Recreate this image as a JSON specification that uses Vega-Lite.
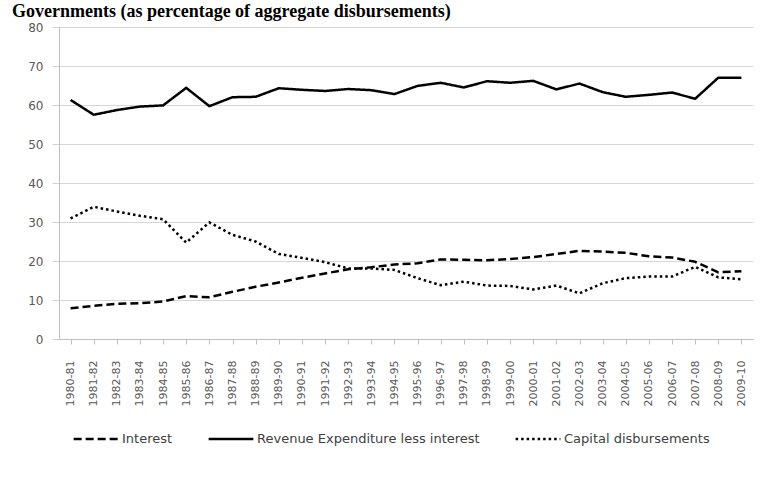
{
  "$schema": "https://vega.github.io/schema/vega-lite/v6.json",
  "autosize": {"type": "none"},
  "padding": {"left": 59, "top": 27, "right": 9, "bottom": 143},
  "width": 694,
  "height": 312,
  "background": "white",
  "title": {
    "text": "Governments (as percentage of aggregate disbursements)",
    "anchor": "start",
    "frame": "group",
    "font": "Liberation Serif",
    "fontSize": 18,
    "fontWeight": "bold",
    "color": "#000000",
    "baseline": "alphabetic",
    "offset": 13,
    "dy": 27,
    "dx": -47
  },
  "data": {
    "values": [
      {"year": "1980-81", "series": "Interest", "value": 7.9},
      {"year": "1981-82", "series": "Interest", "value": 8.5},
      {"year": "1982-83", "series": "Interest", "value": 9.0},
      {"year": "1983-84", "series": "Interest", "value": 9.2},
      {"year": "1984-85", "series": "Interest", "value": 9.6},
      {"year": "1985-86", "series": "Interest", "value": 11.0},
      {"year": "1986-87", "series": "Interest", "value": 10.7},
      {"year": "1987-88", "series": "Interest", "value": 12.1},
      {"year": "1988-89", "series": "Interest", "value": 13.4},
      {"year": "1989-90", "series": "Interest", "value": 14.5},
      {"year": "1990-91", "series": "Interest", "value": 15.7},
      {"year": "1991-92", "series": "Interest", "value": 16.8},
      {"year": "1992-93", "series": "Interest", "value": 17.9},
      {"year": "1993-94", "series": "Interest", "value": 18.4},
      {"year": "1994-95", "series": "Interest", "value": 19.1},
      {"year": "1995-96", "series": "Interest", "value": 19.4},
      {"year": "1996-97", "series": "Interest", "value": 20.4},
      {"year": "1997-98", "series": "Interest", "value": 20.3},
      {"year": "1998-99", "series": "Interest", "value": 20.2},
      {"year": "1999-00", "series": "Interest", "value": 20.5},
      {"year": "2000-01", "series": "Interest", "value": 21.0},
      {"year": "2001-02", "series": "Interest", "value": 21.8},
      {"year": "2002-03", "series": "Interest", "value": 22.6},
      {"year": "2003-04", "series": "Interest", "value": 22.4},
      {"year": "2004-05", "series": "Interest", "value": 22.1},
      {"year": "2005-06", "series": "Interest", "value": 21.2},
      {"year": "2006-07", "series": "Interest", "value": 20.9},
      {"year": "2007-08", "series": "Interest", "value": 19.8},
      {"year": "2008-09", "series": "Interest", "value": 17.1},
      {"year": "2009-10", "series": "Interest", "value": 17.4},
      {"year": "1980-81", "series": "Revenue Expenditure less interest", "value": 61.3},
      {"year": "1981-82", "series": "Revenue Expenditure less interest", "value": 57.5},
      {"year": "1982-83", "series": "Revenue Expenditure less interest", "value": 58.7},
      {"year": "1983-84", "series": "Revenue Expenditure less interest", "value": 59.6},
      {"year": "1984-85", "series": "Revenue Expenditure less interest", "value": 59.9},
      {"year": "1985-86", "series": "Revenue Expenditure less interest", "value": 64.4},
      {"year": "1986-87", "series": "Revenue Expenditure less interest", "value": 59.7},
      {"year": "1987-88", "series": "Revenue Expenditure less interest", "value": 62.0},
      {"year": "1988-89", "series": "Revenue Expenditure less interest", "value": 62.1},
      {"year": "1989-90", "series": "Revenue Expenditure less interest", "value": 64.3},
      {"year": "1990-91", "series": "Revenue Expenditure less interest", "value": 63.9},
      {"year": "1991-92", "series": "Revenue Expenditure less interest", "value": 63.6},
      {"year": "1992-93", "series": "Revenue Expenditure less interest", "value": 64.1},
      {"year": "1993-94", "series": "Revenue Expenditure less interest", "value": 63.8},
      {"year": "1994-95", "series": "Revenue Expenditure less interest", "value": 62.8},
      {"year": "1995-96", "series": "Revenue Expenditure less interest", "value": 64.9},
      {"year": "1996-97", "series": "Revenue Expenditure less interest", "value": 65.7},
      {"year": "1997-98", "series": "Revenue Expenditure less interest", "value": 64.5},
      {"year": "1998-99", "series": "Revenue Expenditure less interest", "value": 66.1},
      {"year": "1999-00", "series": "Revenue Expenditure less interest", "value": 65.7},
      {"year": "2000-01", "series": "Revenue Expenditure less interest", "value": 66.2},
      {"year": "2001-02", "series": "Revenue Expenditure less interest", "value": 64.0},
      {"year": "2002-03", "series": "Revenue Expenditure less interest", "value": 65.5},
      {"year": "2003-04", "series": "Revenue Expenditure less interest", "value": 63.3},
      {"year": "2004-05", "series": "Revenue Expenditure less interest", "value": 62.1},
      {"year": "2005-06", "series": "Revenue Expenditure less interest", "value": 62.6},
      {"year": "2006-07", "series": "Revenue Expenditure less interest", "value": 63.2},
      {"year": "2007-08", "series": "Revenue Expenditure less interest", "value": 61.6},
      {"year": "2008-09", "series": "Revenue Expenditure less interest", "value": 67.0},
      {"year": "2009-10", "series": "Revenue Expenditure less interest", "value": 67.0},
      {"year": "1980-81", "series": "Capital disbursements", "value": 30.9},
      {"year": "1981-82", "series": "Capital disbursements", "value": 33.9},
      {"year": "1982-83", "series": "Capital disbursements", "value": 32.7},
      {"year": "1983-84", "series": "Capital disbursements", "value": 31.6},
      {"year": "1984-85", "series": "Capital disbursements", "value": 30.7},
      {"year": "1985-86", "series": "Capital disbursements", "value": 24.7},
      {"year": "1986-87", "series": "Capital disbursements", "value": 29.9},
      {"year": "1987-88", "series": "Capital disbursements", "value": 26.7},
      {"year": "1988-89", "series": "Capital disbursements", "value": 25.0},
      {"year": "1989-90", "series": "Capital disbursements", "value": 21.8},
      {"year": "1990-91", "series": "Capital disbursements", "value": 20.8},
      {"year": "1991-92", "series": "Capital disbursements", "value": 19.7},
      {"year": "1992-93", "series": "Capital disbursements", "value": 18.1},
      {"year": "1993-94", "series": "Capital disbursements", "value": 18.1},
      {"year": "1994-95", "series": "Capital disbursements", "value": 17.7},
      {"year": "1995-96", "series": "Capital disbursements", "value": 15.6},
      {"year": "1996-97", "series": "Capital disbursements", "value": 13.8},
      {"year": "1997-98", "series": "Capital disbursements", "value": 14.7},
      {"year": "1998-99", "series": "Capital disbursements", "value": 13.7},
      {"year": "1999-00", "series": "Capital disbursements", "value": 13.6},
      {"year": "2000-01", "series": "Capital disbursements", "value": 12.7},
      {"year": "2001-02", "series": "Capital disbursements", "value": 13.7},
      {"year": "2002-03", "series": "Capital disbursements", "value": 11.7},
      {"year": "2003-04", "series": "Capital disbursements", "value": 14.3},
      {"year": "2004-05", "series": "Capital disbursements", "value": 15.6},
      {"year": "2005-06", "series": "Capital disbursements", "value": 16.0},
      {"year": "2006-07", "series": "Capital disbursements", "value": 16.0},
      {"year": "2007-08", "series": "Capital disbursements", "value": 18.5},
      {"year": "2008-09", "series": "Capital disbursements", "value": 15.8},
      {"year": "2009-10", "series": "Capital disbursements", "value": 15.3}
    ]
  },
  "mark": {"type": "line", "color": "#000000", "strokeWidth": 2.5, "strokeCap": "butt", "strokeJoin": "round"},
  "encoding": {
    "x": {
      "field": "year",
      "type": "ordinal",
      "sort": null,
      "scale": {"type": "point", "padding": 0.5},
      "axis": {
        "title": null,
        "labelAngle": -90,
        "labelAlign": "right",
        "labelBaseline": "middle",
        "labelFont": "DejaVu Sans",
        "labelFontSize": 11,
        "labelColor": "#595959",
        "labelPadding": 16,
        "tickSize": 5,
        "tickColor": "#bfbfbf",
        "domainColor": "#bfbfbf",
        "grid": false
      }
    },
    "y": {
      "field": "value",
      "type": "quantitative",
      "scale": {"domain": [0, 80], "nice": false},
      "axis": {
        "title": null,
        "values": [0, 10, 20, 30, 40, 50, 60, 70, 80],
        "labelFont": "DejaVu Sans",
        "labelFontSize": 12,
        "labelColor": "#595959",
        "labelPadding": 9,
        "tickSize": 7,
        "tickColor": "#d0d0d0",
        "domainColor": "#bfbfbf",
        "grid": true,
        "gridColor": "#d6d6d6"
      }
    },
    "strokeDash": {
      "field": "series",
      "type": "nominal",
      "scale": {
        "domain": ["Interest", "Revenue Expenditure less interest", "Capital disbursements"],
        "range": [[8, 4], [1, 0], [2.5, 3]]
      },
      "legend": {
        "title": null,
        "orient": "none",
        "legendX": 13,
        "legendY": 388,
        "direction": "horizontal",
        "symbolType": "stroke",
        "symbolSize": 2000,
        "symbolStrokeWidth": 2.5,
        "symbolStrokeColor": "#000000",
        "labelFont": "DejaVu Sans",
        "labelFontSize": 13,
        "labelLimit": 0,
        "labelColor": "#404040",
        "labelOffset": 2,
        "columnPadding": 30
      }
    }
  },
  "config": {
    "view": {"stroke": null}
  }
}
